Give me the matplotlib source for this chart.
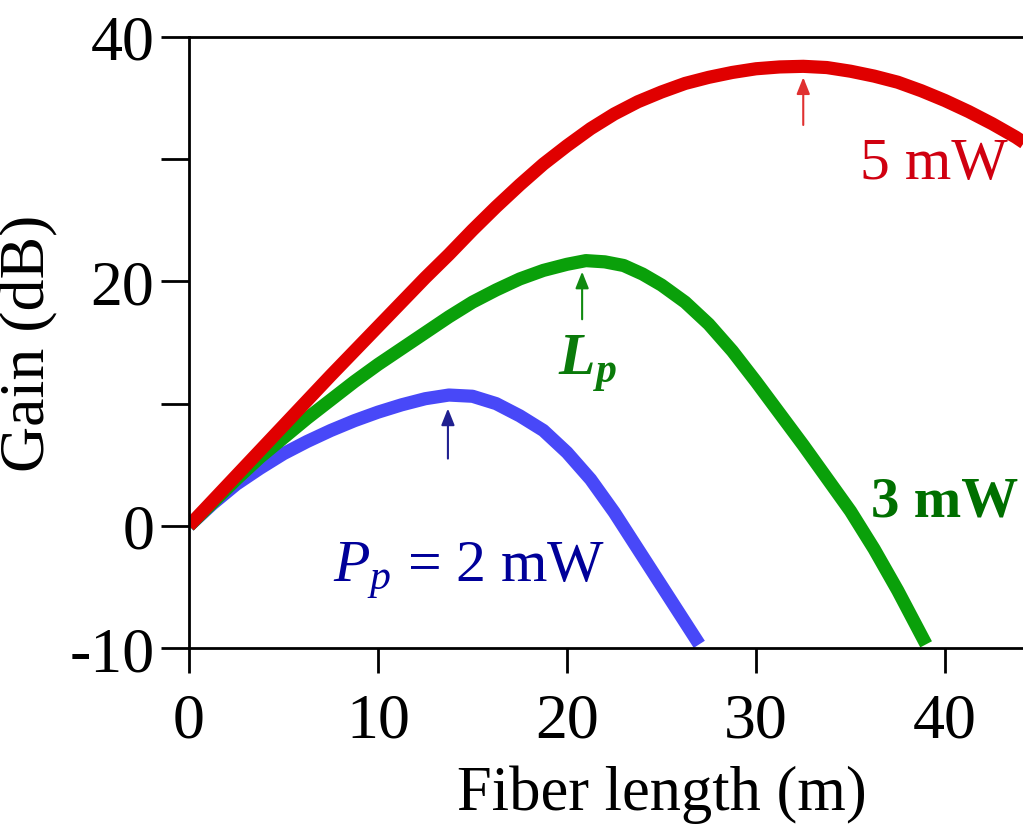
import matplotlib
matplotlib.use('Agg')
import matplotlib.pyplot as plt

plt.rcParams['font.family'] = ['Liberation Serif', 'DejaVu Serif']
plt.rcParams['mathtext.fontset'] = 'custom'
plt.rcParams['mathtext.rm'] = 'Liberation Serif'
plt.rcParams['mathtext.it'] = 'Liberation Serif:italic'
plt.rcParams['mathtext.bf'] = 'Liberation Serif:bold'
plt.rcParams['mathtext.bfit'] = 'Liberation Serif:bold:italic'

# gain vs fiber length
x_2mw = [0, 1.25, 2.5, 3.75, 5, 6.25, 7.5, 8.75, 10, 11.25, 12.5, 13.75, 15,
         16.25, 17.5, 18.75, 20, 21.25, 22.5, 23.75, 25, 26, 27]
g_2mw = [0, 1.8, 3.4, 4.7, 5.9, 6.9, 7.8, 8.6, 9.3, 9.9, 10.4, 10.7, 10.6,
         10.0, 9.0, 7.8, 6.0, 3.8, 1.1, -1.9, -4.9, -7.3, -9.7]

x_3mw = [0, 1.25, 2.5, 3.75, 5, 6.25, 7.5, 8.75, 10, 11.25, 12.5, 13.75, 15,
         16.25, 17.5, 18.75, 20, 21, 22, 23, 24, 25, 26.25, 27.5, 28.75, 30,
         31.25, 32.5, 33.75, 35, 36.25, 37.5, 38.25, 39.0]
g_3mw = [0, 1.9, 3.8, 5.6, 7.2, 8.8, 10.3, 11.8, 13.2, 14.5, 15.8, 17.1, 18.3,
         19.3, 20.2, 20.9, 21.4, 21.7, 21.6, 21.3, 20.6, 19.7, 18.3, 16.5, 14.3, 11.8,
         9.2, 6.6, 3.9, 1.2, -1.9, -5.3, -7.5, -9.7]

x_5mw = [0, 2.5, 5, 7.5, 10, 12.5, 13.75, 15, 16.25, 17.5, 18.75, 20, 21.25,
         22.5, 23.75, 25, 26.25, 27.5, 28.75, 30, 31.25, 32.5, 33.75, 35, 36.25,
         37.5, 38.75, 40, 41.25, 42.5, 43.75, 45]
g_5mw = [0, 4.1, 8.2, 12.3, 16.3, 20.3, 22.2, 24.2, 26.1, 27.9, 29.6, 31.1, 32.5,
         33.7, 34.7, 35.5, 36.2, 36.7, 37.1, 37.4, 37.55, 37.6, 37.5, 37.2, 36.8,
         36.3, 35.6, 34.8, 33.9, 32.9, 31.8, 30.5]

# optimum length L_p for each pump power
lp_x = [13.7, 20.8, 32.5]
lp_tip = [9.6, 20.8, 36.7]
lp_tail = [5.5, 16.9, 32.8]

xticks = [0, 10, 20, 30, 40]
yticks = [-10, 0, 10, 20, 30, 40]
ytick_labels = ['-10', '0', '', '20', '', '40']

fig = plt.figure(figsize=(10.23, 8.37), dpi=100)
ax = fig.add_axes([189/1023, 1 - 649/837, 945/1023, 611/837])

lw = 9.5
ax.plot(x_2mw, g_2mw, color='#4848f8', lw=lw, solid_capstyle='butt', solid_joinstyle='round')
ax.plot(x_3mw, g_3mw, color='#0aa00a', lw=lw, solid_capstyle='butt', solid_joinstyle='round')
ax.plot(x_5mw, g_5mw, color='#e00000', lw=lw, solid_capstyle='butt', solid_joinstyle='round')

arrow_cols = ['#202090', '#108a10', '#e03030']
for xa, yt, yb, c in zip(lp_x, lp_tip, lp_tail, arrow_cols):
    ax.annotate('', xy=(xa, yt), xytext=(xa, yb),
                arrowprops=dict(arrowstyle='-|>,head_length=0.5,head_width=0.2',
                                color=c, lw=1.5, mutation_scale=20,
                                shrinkA=0, shrinkB=0))

ax.text(39.4, 29.6, '5 mW', color='#d00010', fontsize=43, ha='center', va='center')
ax.text(36.1, 2.0, '3 mW', color='#006f00', fontsize=41, fontweight='bold',
        ha='left', va='center')
ax.text(19.5, 12.4, r'$\mathbfit{L}_{\mathbfit{p}}$', color='#0a7a0a', fontsize=43,
        ha='left', va='baseline')
ax.text(7.6, -4.5, r'$P_p$ = 2 mW', color='#000099', fontsize=43,
        ha='left', va='baseline')

ax.set_xlim(0, 50)
ax.set_ylim(-10, 40)
ax.set_xticks(xticks)
ax.set_yticks(yticks)
ax.set_yticklabels(ytick_labels)
ax.tick_params(direction='out', width=2, labelsize=46)
ax.tick_params(axis='y', length=20, pad=5)
ax.tick_params(axis='x', length=18, pad=14)
for s in ax.spines.values():
    s.set_linewidth(2)

ax.set_xlabel('Fiber length (m)', fontsize=45, labelpad=10)
ax.set_ylabel('Gain (dB)', fontsize=46, labelpad=8)

fig.savefig('out.png', dpi=100)
